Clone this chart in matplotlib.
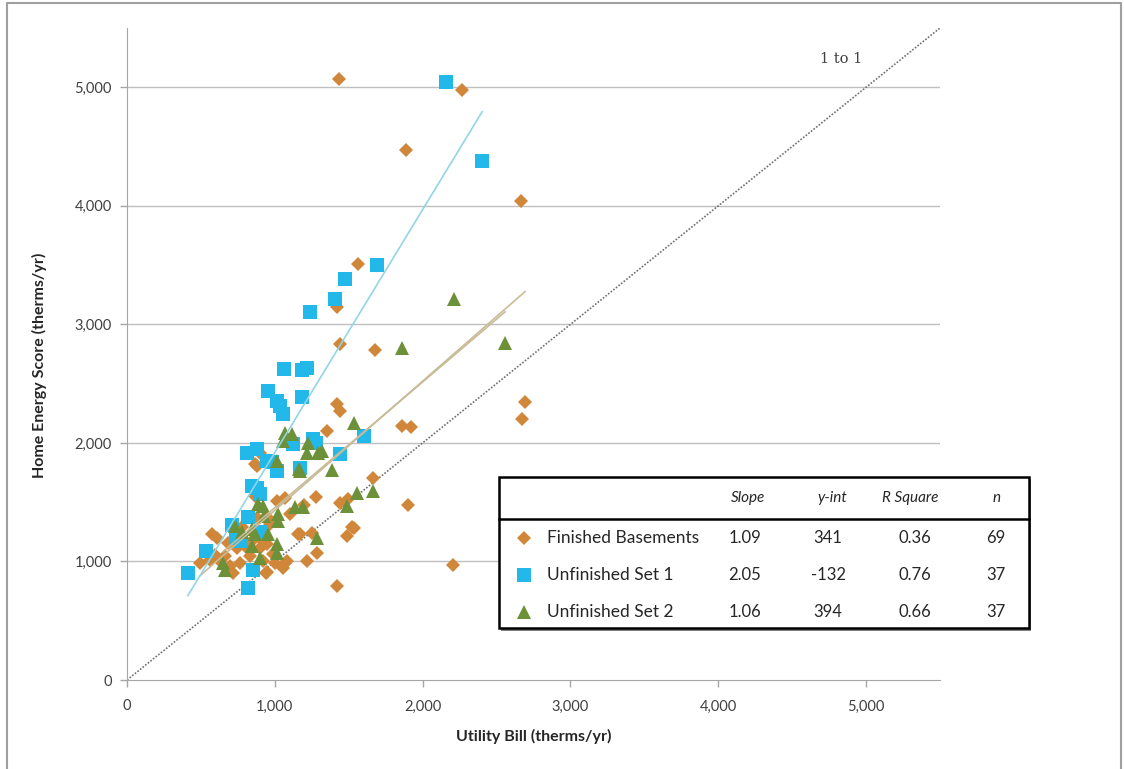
import numpy as np
import matplotlib
matplotlib.use("Agg")
import matplotlib.pyplot as plt
from matplotlib.patches import Rectangle
from matplotlib.lines import Line2D

plt.rcParams['font.family'] = ['Lato', 'DejaVu Sans']

# data (therms/yr)
fin_x = [1431, 2268, 1890, 2666, 1566, 1418, 1438, 1681, 2693, 2673, 1863, 1924,
         1904, 2207, 1424, 1438, 1350, 1661, 1519, 1485, 1438, 1492, 1276, 1066,
         1168, 1282, 1215, 1424, 938, 1053, 999, 1080, 493, 574, 607, 682, 594,
         628, 716, 763, 830, 877, 945, 864, 864, 898, 844, 877, 918, 965, 985,
         898, 742, 817, 898, 877, 1154, 1539, 1066, 945, 1013, 660, 780, 1200,
         1100, 950, 1250, 700, 560]
fin_y = [5074, 4973, 4469, 4040, 3511, 3150, 2831, 2780, 2344, 2201, 2142, 2134,
         1478, 966, 2327, 2268, 2100, 1705, 1294, 1218, 1495, 1529, 1546, 1537,
         1235, 1075, 1008, 790, 899, 949, 991, 1008, 983, 1235, 1201, 1159, 1058,
         1008, 899, 991, 1050, 1369, 1378, 1823, 1554, 1117, 1176, 1235, 1008,
         1319, 1067, 1201, 1117, 1109, 1915, 1806, 1235, 1285, 991, 907, 1512,
         1050, 1290, 1480, 1400, 1150, 1240, 960, 1010]

set1_x = [412, 533, 709, 770, 817, 851, 817, 844, 898, 810, 877, 945, 1013,
          1168, 1181, 952, 1013, 1033, 1053, 1121, 1256, 1438, 1600, 2160, 2403,
          1688, 1478, 1404, 1235, 1060, 1181, 1215, 880, 980, 1280, 900, 740]
set1_y = [899, 1092, 1310, 1176, 1378, 932, 773, 1638, 1571, 1915, 1949, 1848,
          1764, 1789, 2386, 2436, 2352, 2310, 2243, 1991, 2033, 1907, 2058, 5048,
          4376, 3503, 3385, 3217, 3108, 2621, 2612, 2629, 1620, 1840, 2000, 1250,
          1200]

set2_x = [1066, 1114, 1053, 1222, 1215, 1289, 1316, 1013, 1168, 1384, 1539,
          1559, 1661, 1485, 1134, 1188, 884, 918, 1019, 1019, 1282, 729, 844,
          864, 952, 1013, 844, 898, 1013, 648, 661, 2214, 1863, 2558, 1161, 780,
          930]
set2_y = [2083, 2075, 2016, 2000, 1915, 1915, 1932, 1848, 1764, 1772, 2167,
          1579, 1596, 1470, 1462, 1462, 1487, 1470, 1403, 1344, 1201, 1302, 1277,
          1235, 1235, 1151, 1134, 1025, 1075, 991, 924, 3217, 2797, 2839, 1781,
          1250, 1380]

series = ["Finished Basements", "Unfinished Set 1", "Unfinished Set 2"]
slopes = [1.09, 2.05, 1.06]
yints = [341, -132, 394]
rsq = [0.36, 0.76, 0.66]
counts = [69, 37, 37]

ticks = [0, 1000, 2000, 3000, 4000, 5000]
tick_labels = ["0", "1,000", "2,000", "3,000", "4,000", "5,000"]

c_fin, c_s1, c_s2 = "#D0873A", "#22B8EA", "#6C9139"
mk = dict(linestyle="none", markeredgewidth=0)

fig = plt.figure(figsize=(11.24, 7.69), dpi=100)
ax = fig.add_axes([127/1124, 1 - 680/769, 813/1124, 652/769])

# page border like the screenshot
fig.add_artist(Line2D([0.006, 0.006, 0.997, 0.997], [0, 0.996, 0.996, 0],
                      transform=fig.transFigure, color="#A0A0A0", lw=1.5))

for v in ticks[1:]:
    ax.axhline(v, color="#BFBFBF", lw=1, zorder=0)

ax.plot([0, 5500], [0, 5500], color="#707070", lw=1.2, ls=(0, (1, 1)), zorder=1)

ax.plot(fin_x, fin_y, marker="D", ms=7.5, color=c_fin, zorder=2, **mk)
ax.plot(set1_x, set1_y, marker="s", ms=9.5, color=c_s1, zorder=3, **mk)
ax.plot(set2_x, set2_y, marker="^", ms=10, color=c_s2, zorder=4, **mk)

# trend lines from the stated fits, spanning each series' x range
for xs, m, b, col in [(fin_x, 1.09, 341, "#C9BB97"), (set1_x, 2.05, -132, "#93D5E6"),
                      (set2_x, 1.06, 394, "#C9BB97")]:
    xx = np.array([min(xs), max(xs)])
    ax.plot(xx, m * xx + b, color=col, lw=1.2, zorder=5)

ax.text(4830, 5240, "1 to 1", fontsize=10.5, family="DejaVu Serif",
        color="#404040", ha="center", va="center")

ax.set_xlim(0, 5500)
ax.set_ylim(0, 5500)
ax.set_xticks(ticks)
ax.set_xticklabels(tick_labels)
ax.set_yticks(ticks)
ax.set_yticklabels(tick_labels)
ax.tick_params(colors="#A6A6A6", labelcolor="#404040", labelsize=10.5, length=5,
               width=1)
ax.tick_params(axis="y", pad=6)
ax.tick_params(axis="x", pad=9)
for s in ["top", "right"]:
    ax.spines[s].set_visible(False)
for s in ["left", "bottom"]:
    ax.spines[s].set_color("#A6A6A6")
ax.set_xlabel("Utility Bill (therms/yr)", fontsize=11.5, fontweight="bold",
              color="#262626", labelpad=11)
ax.set_ylabel("Home Energy Score (therms/yr)", fontsize=11.5, fontweight="bold",
              color="#262626")
ax.yaxis.set_label_coords(-0.098, 0.483)

# stats table in pixel units of the reference
tab = fig.add_axes([498/1124, 1 - 631/769, 534/1124, 155/769])
tab.set_xlim(498, 1032)
tab.set_ylim(631, 476)
tab.axis("off")
tab.add_patch(Rectangle((501, 479), 530, 152, facecolor="#808080", edgecolor="none"))
tab.add_patch(Rectangle((499, 477), 530, 151, facecolor="white", edgecolor="black", lw=1.8))
tab.plot([499, 1029], [519, 519], color="black", lw=1.8)

hdr_x = [748, 832, 910, 997]
for x, h in zip(hdr_x, ["Slope", "y-int", "R Square", "n"]):
    tab.text(x, 498, h, style="italic", fontsize=11, color="#262626",
             ha="center", va="center")

row_y = [538, 575, 612]
mks = [("D", 7.5, c_fin), ("s", 10, c_s1), ("^", 10, c_s2)]
for i in range(3):
    y = row_y[i]
    m, ms, col = mks[i]
    tab.plot([524], [y], marker=m, ms=ms, color=col, **mk)
    tab.text(547, y, series[i], fontsize=12.5, color="#262626", va="center")
    vals = [f"{slopes[i]:.2f}", f"{yints[i]}", f"{rsq[i]:.2f}", f"{counts[i]}"]
    for x, v in zip([745, 828, 915, 996], vals):
        tab.text(x, y, v, fontsize=12, color="#262626", ha="center", va="center")

fig.savefig("out.png", dpi=100)
